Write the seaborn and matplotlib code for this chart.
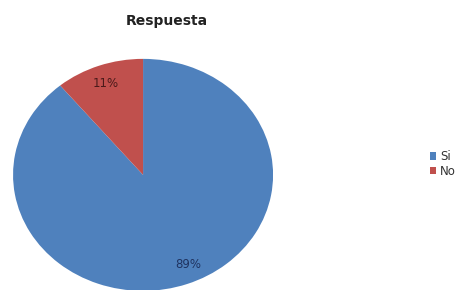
import matplotlib
matplotlib.use("Agg")
import matplotlib.pyplot as plt
import seaborn as sns

categories = ["Si", "No"]
values = [89, 11]
colors = ["#4F81BD", "#C0504D"]
title = "Respuesta"

sns.set_theme(style="white")
plt.rcParams['font.family'] = ['DejaVu Sans']

fig = plt.figure(figsize=(4.66, 2.9), dpi=100)
fig.patch.set_facecolor("white")
ax = fig.add_axes([0.028, -0.003, 0.558, 0.8])
wedges, texts, autotexts = ax.pie(values, colors=colors, startangle=90, counterclock=False,
                                  autopct=lambda p: f"{p:.0f}%", pctdistance=0.84,
                                  textprops=dict(fontsize=8.5, color="#1f3360"),
                                  wedgeprops=dict(linewidth=0))
autotexts[1].set_color("#4a1a1a")
x0, y0 = autotexts[0].get_position()
autotexts[0].set_position((x0 + 0.06, y0 + 0.02))
ax.set_aspect('auto')
ax.set_xlim(-1, 1)
ax.set_ylim(-1, 1)

fig.text(0.358, 0.915, title, ha="center", va="baseline", fontsize=10, fontweight="bold", color="#222222")

fig.legend(wedges, categories, loc="center left", bbox_to_anchor=(0.922, 0.435), frameon=False,
           fontsize=8.5, handlelength=0.55, handleheight=0.55, handletextpad=0.35, labelspacing=0.12,
           borderaxespad=0, borderpad=0, labelcolor="#333333")

fig.savefig("out.png", dpi=100, facecolor="white")
